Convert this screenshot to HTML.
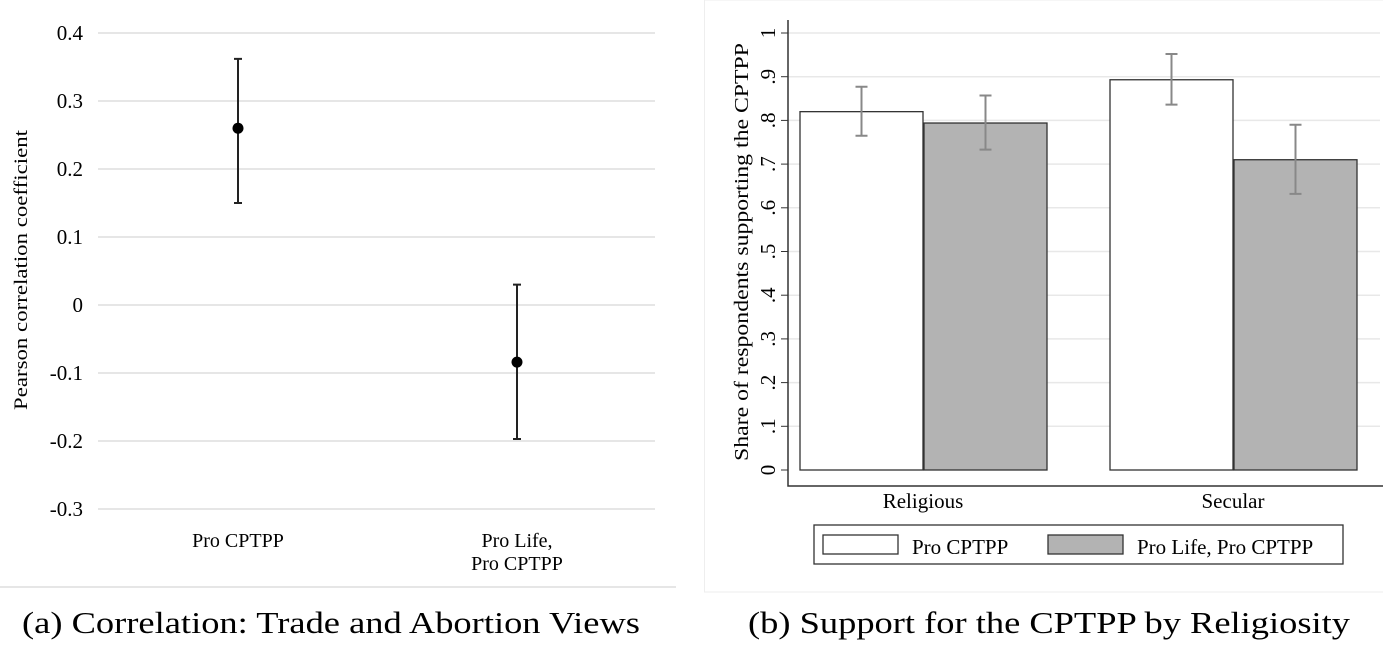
<!DOCTYPE html>
<html><head><meta charset="utf-8"><style>
body{margin:0;background:#fff;width:1383px;height:648px;overflow:hidden}
svg{display:block;font-family:"Liberation Serif",serif}
</style></head><body>
<svg id="s" width="1383" height="648" xmlns="http://www.w3.org/2000/svg">
<g id="left"></g>
<g id="right"></g>
<line x1="0" y1="587" x2="676" y2="587" stroke="#ddd" stroke-width="1.5"/>
<rect x="704.5" y="0" width="680" height="592" fill="none" stroke="#eee"/>
<text x="22" y="633" font-size="31" textLength="618" lengthAdjust="spacingAndGlyphs">(a) Correlation: Trade and Abortion Views</text>
<text x="748" y="633" font-size="31" textLength="602" lengthAdjust="spacingAndGlyphs">(b) Support for the CPTPP by Religiosity</text>
</svg>
<script>
const corrCats=[["Pro CPTPP"],["Pro Life,","Pro CPTPP"]];
const corrVals=[0.26,-0.084];
const corrLo=[0.15,-0.197];
const corrHi=[0.362,0.03];
const corrTicks=[0.4,0.3,0.2,0.1,0,-0.1,-0.2,-0.3];
const corrTickLabels=["0.4","0.3","0.2","0.1","0","-0.1","-0.2","-0.3"];

const barGroups=["Religious","Secular"];
const seriesNames=["Pro CPTPP","Pro Life, Pro CPTPP"];
const proVals=[0.82,0.893];
const lifeVals=[0.794,0.71];
const proLo=[0.765,0.836];
const proHi=[0.877,0.952];
const lifeLo=[0.733,0.632];
const lifeHi=[0.857,0.79];
const barTicks=[0,0.1,0.2,0.3,0.4,0.5,0.6,0.7,0.8,0.9,1];
const barTickLabels=["0",".1",".2",".3",".4",".5",".6",".7",".8",".9","1"];

const NS="http://www.w3.org/2000/svg";
function mk(parent,tag,attrs,text){const e=document.createElementNS(NS,tag);for(const k in attrs)e.setAttribute(k,attrs[k]);if(text!=null)e.textContent=text;parent.appendChild(e);return e;}

// left chart
const L=document.getElementById('left');
const ly=v=>305-v*680;
const lx=i=>238+i*279;
corrTicks.forEach((t,i)=>{
  const g=mk(L,'line',{x1:98,x2:655,y1:ly(t),y2:ly(t),stroke:'#ddd','stroke-width':1.5});
  
  
  const tx=mk(L,'text',{x:83,y:ly(t)+7,'font-size':21,'text-anchor':'end'},corrTickLabels[i]);
  
  
});
const lt=mk(L,'text',{transform:'translate(27,270) rotate(-90)','font-size':19,'text-anchor':'middle',textLength:280,lengthAdjust:'spacingAndGlyphs'},'Pearson correlation coefficient');


corrVals.forEach((v,i)=>{
  const x=lx(i);
  const e=mk(L,'path',{d:`M${x},${ly(corrHi[i])}V${ly(corrLo[i])}M${x-4},${ly(corrHi[i])}h8M${x-4},${ly(corrLo[i])}h8`,stroke:'#222','stroke-width':2,fill:'none'});
  
  
  const c=mk(L,'circle',{cx:x,cy:ly(v),r:5.5,fill:'#000'});
  
  
  corrCats[i].forEach((ln,j)=>{
    const t=mk(L,'text',{x:x,y:547+j*23,'font-size':20,'text-anchor':'middle'},ln);
    
    
  });
});

// right chart
const R=document.getElementById('right');
const ry=v=>470-v*437;
const bw=123;
const gx=i=>800+i*310;
barTicks.forEach((t,i)=>{
  if(t>0){const g=mk(R,'line',{x1:788,x2:1380,y1:ry(t),y2:ry(t),stroke:'#e8e8e8','stroke-width':1.5});
  
  }
  const tk=mk(R,'line',{x1:781,x2:788,y1:ry(t),y2:ry(t),stroke:'#333','stroke-width':1});
  
  
  const tx=mk(R,'text',{transform:`translate(775,${ry(t)}) rotate(-90)`,'font-size':21,'text-anchor':'middle'},barTickLabels[i]);
  
  
});
const ax=mk(R,'path',{d:'M788,20V486H1383',stroke:'#333','stroke-width':1.5,fill:'none'});


const rt=mk(R,'text',{transform:'translate(748,252) rotate(-90)','font-size':20,'text-anchor':'middle',textLength:418,lengthAdjust:'spacingAndGlyphs'},'Share of respondents supporting the CPTPP');


const series=[{v:proVals,lo:proLo,hi:proHi,fill:'#fff'},{v:lifeVals,lo:lifeLo,hi:lifeHi,fill:'#b3b3b3'}];
barGroups.forEach((g,i)=>{
  series.forEach((s,k)=>{
    const x=gx(i)+k*(bw+1);
    const b=mk(R,'rect',{x:x,y:ry(s.v[i]),width:bw,height:ry(0)-ry(s.v[i]),fill:s.fill,stroke:'#333','stroke-width':1.3});
    
    
    const cx=x+bw/2;
    const e=mk(R,'path',{d:`M${cx},${ry(s.hi[i])}V${ry(s.lo[i])}M${cx-6},${ry(s.hi[i])}h12M${cx-6},${ry(s.lo[i])}h12`,stroke:'#888','stroke-width':2,fill:'none'});
    
    
  });
  const t=mk(R,'text',{x:gx(i)+bw,y:508,'font-size':21,'text-anchor':'middle'},g);
  
  
});
const lg=mk(R,'rect',{x:814,y:525,width:529,height:39,fill:'#fff',stroke:'#333','stroke-width':1.3});


const legX=[823,1048],legT=[912,1137];
series.forEach((s,k)=>{
  const sw=mk(R,'rect',{x:legX[k],y:535,width:75,height:19,fill:s.fill,stroke:'#333','stroke-width':1.3});
  
  
  const t=mk(R,'text',{x:legT[k],y:554,'font-size':21},seriesNames[k]);
  
  
});
</script>
</body></html>
